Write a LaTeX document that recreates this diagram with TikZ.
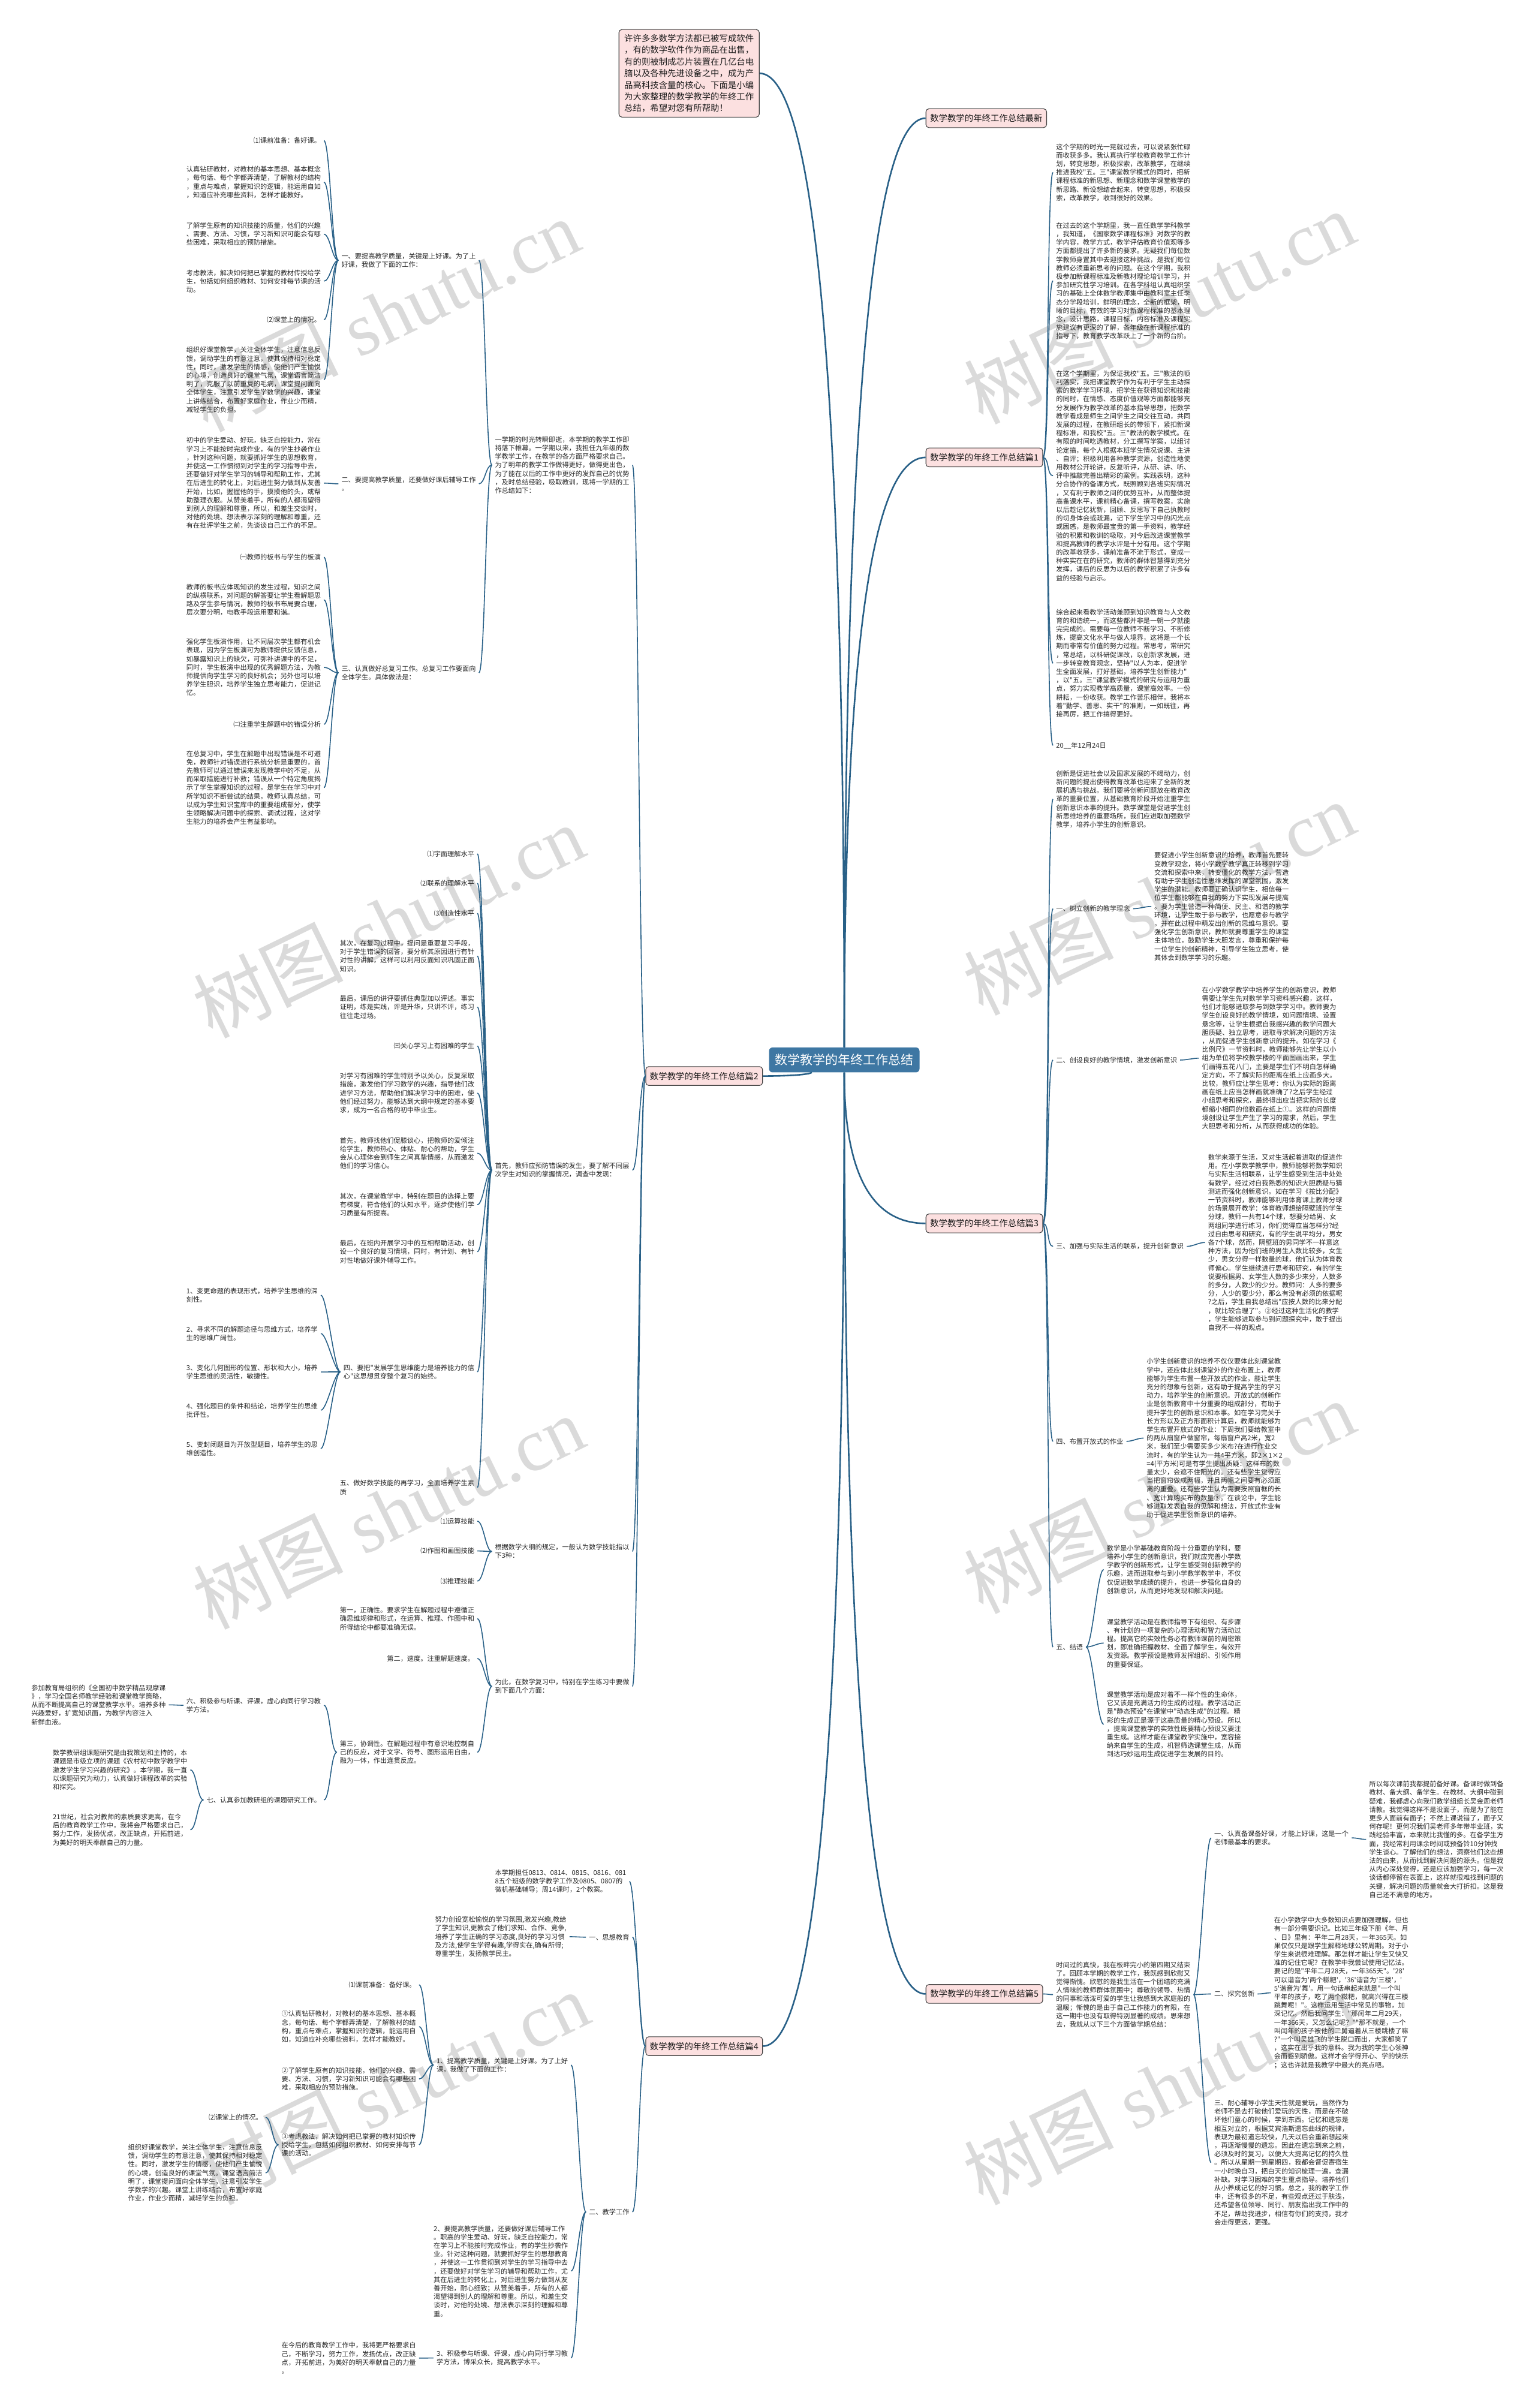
\documentclass[tikz,border=0pt]{standalone}
\usepackage{fontspec}
\usepackage{tikz}
\usetikzlibrary{calc}
\newfontfamily\cjk{Noto Sans CJK SC}
\newfontfamily\wmfont{Liberation Serif}
\definecolor{linkblue}{RGB}{40,96,135}
\definecolor{rootblue}{RGB}{62,119,163}
\definecolor{topicpink}{RGB}{252,224,224}
\definecolor{wmgray}{RGB}{218,218,218}
\newcommand\qlink[3]{\draw[main] (#1) .. controls ($(#1)!0.667!(#2)$) and ($(#3)!0.667!(#2)$) .. (#3);}
\newcommand\rlink[2]{\draw[sub] (#1.east) .. controls +(4,0) and +(-4,0) .. (#2.west);}
\newcommand\llink[2]{\draw[sub] (#1.west) .. controls +(-4,0) and +(4,0) .. (#2.east);}

\begin{document}
\begin{tikzpicture}[x=2.56pt, y=-2.56pt,
  txt/.style={font=\cjk\fontsize{11.2}{14.2}\selectfont, align=left, inner xsep=5pt, inner ysep=0.6pt, text=black!85},
  topic/.style={draw=black!75, line width=1.1pt, fill=topicpink, rounded corners=5pt, font=\cjk\fontsize{14.4}{19.4}\selectfont, inner xsep=7pt, inner ysep=9pt, text=black!90},
  root/.style={fill=rootblue, rounded corners=6pt, text=white, font=\cjk\fontsize{21}{25}\selectfont, inner xsep=10pt, inner ysep=11pt},
  main/.style={draw=linkblue, line width=2.6pt},
  sub/.style={draw=linkblue, line width=1.6pt},
  wm/.style={font=\wmfont\fontsize{125}{125}\selectfont, text=wmgray, rotate=26}]
\useasboundingbox (0,0) rectangle (1000,1568.75);
\fill[white] (0,0) rectangle (1000,1568.75);

\foreach \wx/\wy in {250/205, 755/200, 253/600, 755/585, 253/985, 755/975, 256/1360, 755/1360}
  {\node[wm] (wm-\wx-\wy) at (\wx,\wy) {{\cjk 树图} shutu.cn};}

\node[root] (root) at (550,690.5) {数学教学的年终工作总结};
\node[topic, anchor=north west, align=left, inner xsep=9pt, inner ysep=8pt] (intro) at (403,19) {许许多多数学方法都已被写成软件\\，有的数学软件作为商品在出售，\\有的则被制成芯片装置在几亿台电\\脑以及各种先进设备之中，成为产\\品高科技含量的核心。下面是小编\\为大家整理的数学教学的年终工作\\总结，希望对您有所帮助！};
\node[topic, anchor=west] (zxin) at (603,77) {数学教学的年终工作总结最新};
\node[topic, anchor=west] (p1) at (603,298) {数学教学的年终工作总结篇1};
\node[topic, anchor=west] (p3) at (603,797) {数学教学的年终工作总结篇3};
\node[topic, anchor=west] (p5) at (603,1299) {数学教学的年终工作总结篇5};
\node[topic, anchor=east] (p2) at (497,701) {数学教学的年终工作总结篇2};
\node[topic, anchor=east] (p4) at (497,1333) {数学教学的年终工作总结篇4};

% 篇1
\node[txt, anchor=north west] (a1) at (686,93.3) {这个学期的时光一晃就过去，可以说紧张忙碌\\而收获多多。我认真执行学校教育教学工作计\\划，转变思想，积极探索，改革教学，在继续\\推进我校"五。三"课堂教学模式的同时，把新\\课程标准的新思想、新理念和数学课堂教学的\\新思路、新设想结合起来，转变思想，积极探\\索，改革教学，收到很好的效果。};
\node[txt, anchor=north west] (a2) at (686,144.5) {在过去的这个学期里，我一直任数学学科教学\\，我知道，《国家数学课程标准》对数学的教\\学内容，教学方式，教学评估教育价值观等多\\方面都提出了许多新的要求。无疑我们每位数\\学教师身置其中去迎接这种挑战，是我们每位\\教师必须重新思考的问题。在这个学期，我积\\极参加新课程标准及新教材理论培训学习，并\\参加研究性学习培训。在各学科组认真组织学\\习的基础上全体数学教师集中由教科室主任李\\杰分学段培训，鲜明的理念，全新的框架，明\\晰的目标，有效的学习对新课程标准的基本理\\念，设计思路，课程目标，内容标准及课程实\\施建议有更深的了解，各年级在新课程标准的\\指导下，教育教学改革跃上了一个新的台阶。};
\node[txt, anchor=north west] (a3) at (686,241) {在这个学期里，为保证我校"五。三"教法的顺\\利落实，我把课堂教学作为有利于学生主动探\\索的数学学习环境，把学生在获得知识和技能\\的同时，在情感、态度价值观等方面都能够充\\分发展作为教学改革的基本指导思想，把数学\\教学看成是师生之间学生之间交往互动，共同\\发展的过程，在教研组长的带领下，紧扣新课\\程标准，和我校"五。三"教法的教学模式。在\\有限的时间吃透教材，分工撰写学案，以组讨\\论定搞，每个人根据本班学生情况说课、主讲\\、自评；积极利用各种教学资源，创造性地使\\用教材公开轮讲，反复听评，从研、讲、听、\\评中推敲完善出精彩的案例。实践表明，这种\\分合协作的备课方式，既照顾到各班实际情况\\，又有利于教师之间的优势互补，从而整体提\\高备课水平，课前精心备课，撰写教案，实施\\以后趁记忆犹新，回顾、反思写下自己执教时\\的切身体会或疏漏，记下学生学习中的闪光点\\或困惑，是教师最宝贵的第一手资料，教学经\\验的积累和教训的吸取，对今后改进课堂教学\\和提高教师的教学水评是十分有用。这个学期\\的改革收获多，课前准备不流于形式，变成一\\种实实在在的研究，教师的群体智慧得到充分\\发挥，课后的反思为以后的教学积累了许多有\\益的经验与启示。};
\node[txt, anchor=north west] (a4) at (686,396.4) {综合起来看教学活动兼顾到知识教育与人文教\\育的和谐统一，而这些都并非是一朝一夕就能\\完完成的。需要每一位教师不断学习、不断修\\炼，提高文化水平与做人境界，这将是一个长\\期而非常有价值的努力过程。常思考，常研究\\，常总结，以科研促课改，以创新求发展，进\\一步转变教育观念，坚持"以人为本，促进学\\生全面发展，打好基础，培养学生创新能力"\\，以"五。三"课堂教学模式的研究与运用为重\\点，努力实现教学高质量，课堂高效率。一份\\耕耘，一份收获。教学工作苦乐相伴。我将本\\着"勤学、善思、实干"的准则，一如既往，再\\接再厉，把工作搞得更好。};
\node[txt, anchor=west] (a5) at (686,485.6) {20\_\_年12月24日};

% 篇3
\node[txt, anchor=north west] (b0) at (686,501.6) {创新是促进社会以及国家发展的不竭动力，创\\新问题的提出使得教育改革也迎来了全新的发\\展机遇与挑战。我们要将创新问题放在教育改\\革的重要位置，从基础教育阶段开始注重学生\\创新意识本事的提升。数学课堂是促进学生创\\新思维培养的重要场所，我们应进取加强数学\\教学，培养小学生的创新意识。};
\node[txt, anchor=west] (b1) at (686,592) {一、树立创新的教学理念};
\node[txt, anchor=north west] (b1t) at (750,554.9) {要促进小学生创新意识的培养，教师首先要转\\变教学观念，将小学数学教学真正转移到学习\\交流和探索中来，转变僵化的教学方法，营造\\有助于学生创造性思维发挥的课堂氛围，激发\\学生的潜能。教师要正确认识学生，相信每一\\位学生都能够在自我的努力下实现发展与提高\\。要为学生营造一种简便、民主、和谐的教学\\环境，让学生敢于参与教学，也愿意参与教学\\，并在此过程中萌发出创新的思维与意识。要\\强化学生创新意识，教师就要尊重学生的课堂\\主体地位，鼓励学生大胆发言，尊重和保护每\\一位学生的创新精神，引导学生独立思考，使\\其体会到数学学习的乐趣。};
\node[txt, anchor=west] (b2) at (686,690.6) {二、创设良好的教学情境，激发创新意识};
\node[txt, anchor=north west] (b2t) at (781,642.6) {在小学数学教学中培养学生的创新意识，教师\\需要让学生先对数学学习资料感兴趣，这样，\\他们才能够进取参与到数学学习中。教师要为\\学生创设良好的教学情境，如问题情境、设置\\悬念等，让学生根据自我感兴趣的数学问题大\\胆质疑、独立思考，进取寻求解决问题的方法\\，从而促进学生创新意识的提升。如在学习《\\比例尺》一节资料时，教师能够先让学生以小\\组为单位将学校教学楼的平面图画出来，学生\\们画得五花八门，主要是学生们不明白怎样确\\定方向，不了解实际的距离在纸上应画多大。\\比较，教师应让学生思考：你认为实际的距离\\画在纸上应当怎样画就准确了?之后学生经过\\小组思考和探究，最终得出应当把实际的长度\\都缩小相同的倍数画在纸上①。这样的问题情\\境创设让学生产生了学习的需求，然后，学生\\大胆思考和分析，从而获得成功的体验。};
\node[txt, anchor=west] (b3) at (686,812) {三、加强与实际生活的联系，提升创新意识};
\node[txt, anchor=north west] (b3t) at (785,751.6) {数学来源于生活，又对生活起着进取的促进作\\用。在小学数学教学中，教师能够将数学知识\\与实际生活相联系，让学生感受到生活中处处\\有数学，经过对自我熟悉的知识大胆质疑与猜\\测进而强化创新意识。如在学习《按比分配》\\一节资料时，教师能够利用体育课上教师分球\\的场景展开教学：体育教师想给隔壁班的学生\\分球，教师一共有14个球，想要分给男、女\\两组同学进行练习，你们觉得应当怎样分?经\\过自由思考和研究，有的学生说平均分，男女\\各7个球，然而，隔壁班的男同学不一样意这\\种方法，因为他们班的男生人数比较多，女生\\少，男女分得一样数量的球，他们认为体育教\\师偏心。学生继续进行思考和研究，有的学生\\说要根据男、女学生人数的多少来分，人数多\\的多分，人数少的少分。教师问：人多的要多\\分，人少的要少分，那么有没有必须的依据呢\\?之后，学生自我总结出"应按人数的比来分配\\，就比较合理了"。②经过这种生活化的教学\\，学生能够进取参与到问题探究中，敢于提出\\自我不一样的观点。};
\node[txt, anchor=west] (b4) at (686,939) {四、布置开放式的作业};
\node[txt, anchor=north west] (b4t) at (745,884.6) {小学生创新意识的培养不仅仅要体此刻课堂教\\学中，还应体此刻课堂外的作业布置上，教师\\能够为学生布置一些开放式的作业，能让学生\\充分的想象与创新，这有助于提高学生的学习\\动力，培养学生的创新意识。开放式的创新作\\业是创新教育中十分重要的组成部分，有助于\\提升学生的创新意识和本事。如在学习完关于\\长方形以及正方形面积计算后，教师就能够为\\学生布置开放式的作业：下周我们要给教室中\\的两从扇窗户做窗帘，每扇窗户高2米，宽2\\米，我们至少需要买多少米布?在进行作业交\\流时，有的学生认为一共4平方米，即2×1×2\\=4(平方米)可是有学生提出质疑：这样布的数\\量太少，会遮不住阳光的。还有些学生觉得应\\当把窗帘做成两幅，并且两幅之间要有必须距\\离的重叠。还有些学生认为需要按照窗框的长\\、宽计算购买布的数量③。在谈论中，学生能\\够进取发表自我的见解和想法，开放式作业有\\助于促进学生创新意识的培养。};
\node[txt, anchor=west] (b5) at (686,1073) {五、结语};
\node[txt, anchor=north west] (b5a) at (719,1006.2) {数学是小学基础教育阶段十分重要的学科，要\\培养小学生的创新意识，我们就应完善小学数\\学教学的创新形式，让学生感受到创新教学的\\乐趣，进而进取参与到小学数学教学中，不仅\\仅促进数学成绩的提升，也进一步强化自身的\\创新意识，从而更好地发现和解决问题。};
\node[txt, anchor=north west] (b5b) at (719,1054.2) {课堂教学活动是在教师指导下有组织、有步骤\\、有计划的一项复杂的心理活动和智力活动过\\程。提高它的实效性务必有教师课前的周密策\\划，即准确把握教材、全面了解学生，有效开\\发资源。教学预设是教师发挥组织、引领作用\\的重要保证。};
\node[txt, anchor=north west] (b5c) at (719,1101.6) {课堂教学活动是应对着不一样个性的生命体，\\它又该是充满活力的生成的过程。教学活动正\\是"静态预设"在课堂中"动态生成"的过程。精\\彩的生成正是源于这高质量的精心预设。所以\\，提高课堂教学的实效性既要精心预设又要注\\重生成。这样才能在课堂教学实施中，宽容接\\纳来自学生的生成，机智筛选课堂生成，从而\\到达巧妙运用生成促进学生发展的目的。};

% 篇5
\node[txt, anchor=north west] (c0) at (686,1277.6) {时间过的真快，我在板畔完小的第四期又结束\\了。回顾本学期的教学工作，我既感到欣慰又\\觉得惭愧。欣慰的是我生活在一个团结的充满\\人情味的教师群体氛围中；尊敬的领导、热情\\的同事和活泼可爱的学生让我感到大家庭般的\\温暖；惭愧的是由于自己工作能力的有限，在\\这一期中也没有取得特别显著的成绩。思来想\\去，我就从以下三个方面做学期总结：};
\node[txt, anchor=north west] (c1) at (789,1192.2) {一、认真备课备好课，才能上好课，这是一个\\老师最基本的要求。};
\node[txt, anchor=north west] (c1t) at (890,1159.9) {所以每次课前我都提前备好课。备课时做到备\\教材、备大纲、备学生。在教材、大纲中碰到\\疑难，我都虚心向我们数学组组长吴金周老师\\请教。我觉得这样不是没面子，而是为了能在\\更多人面前有面子；不然上课说错了，面子又\\何存呢！更何况我们吴老师多年带毕业班，实\\践经验丰富，本来就比我懂的多。在备学生方\\面，我经常利用课余时间或预备铃10分钟找\\学生谈心。了解他们的想法，洞察他们这些想\\法的由来，从而找到解决问题的源头。但是我\\从内心深处觉得，还是应该加强学习，每一次\\谈话都停留在表面上，这样就很难找到问题的\\关键，解决问题的质量就会大打折扣。这是我\\自己还不满意的地方。};
\node[txt, anchor=west] (c2) at (789,1299) {二、探究创新};
\node[txt, anchor=north west] (c2t) at (828,1248.6) {在小学数学中大多数知识点要加强理解，但也\\有一部分需要识记。比如三年级下册《年、月\\、日》里有：平年二月28天，一年365天。如\\果仅仅只是跟学生解释地球公转周期。对于小\\学生来说很难理解。那怎样才能让学生又快又\\准的记住它呢？在教学中我尝试使用记忆法。\\要记的是"平年二月28天，一年365天"。'28'\\可以谐音为'两个糍粑'，'36'谐音为'三楼'，'\\5'谐音为'舞'。用一句话串起来就是"一个叫\\平年的孩子，吃了两个糍粑，就高兴得在三楼\\跳舞呢！"。这样运用生活中常见的事物，加\\深记忆。然后我问学生："那闰年二月29天，\\一年366天，又怎么记呢？""那不就是，一个\\叫闰年的孩子被他的二舅逼着从三楼跳楼了嘛\\?"一个叫吴雄飞的学生脱口而出，大家都笑了\\，这实在出乎我的意料。我为我的学生心领神\\会而感到骄傲。这样才会学得开心、学的快乐\\；这也许就是我教学中最大的亮点吧。};
\node[txt, anchor=north west] (c3) at (789,1367.6) {三、耐心辅导小学生天性就是爱玩，当然作为\\老师不是去打破他们爱玩的天性，而是在不破\\坏他们童心的时候，学到东西。记忆和遗忘是\\相互对立的，根据艾宾浩斯遗忘曲线的规律，\\表现为最初遗忘较快，几天以后会重新想起来\\，再逐渐慢慢的遗忘。因此在遗忘到来之前，\\必须及时的复习，以便大大提高记忆的持久性\\。所以从星期一到星期四，我都会督促寄宿生\\一小时晚自习，把白天的知识梳理一遍，查漏\\补缺。对学习困难的学生重点指导。培养他们\\从小养成记忆的好习惯。总之，我的教学工作\\中，还有很多的不足，有些观点还过于肤浅，\\还希望各位领导、同行、朋友指出我工作中的\\不足，帮助我进步，相信有你们的支持，我才\\会走得更远，更强。};

% 篇2
\node[txt, anchor=north east] (A) at (412,284) {一学期的时光转瞬即逝，本学期的教学工作即\\将落下帷幕。一学期以来，我担任九年级的数\\学教学工作，在教学的各方面严格要求自己。\\为了明年的教学工作做得更好，做得更出色，\\为了能在以后的工作中更好的发挥自己的优势\\，及时总结经验，吸取教训，现将一学期的工\\作总结如下：};
\node[txt, anchor=north east] (A1) at (312,164.4) {一、要提高教学质量，关键是上好课。为了上\\好课，我做了下面的工作：};
\node[txt, anchor=north east] (A2) at (312,310.1) {二、要提高教学质量，还要做好课后辅导工作\\。};
\node[txt, anchor=north east] (A3) at (312,433.2) {三、认真做好总复习工作。总复习工作要面向\\全体学生。具体做法是：};
\node[txt, anchor=east] (A1a) at (211,91.6) {⑴课前准备：备好课。};
\node[txt, anchor=north east] (A1b) at (211,107.9) {认真钻研教材，对教材的基本思想、基本概念\\，每句话、每个字都弄清楚，了解教材的结构\\，重点与难点，掌握知识的逻辑，能运用自如\\，知道应补充哪些资料，怎样才能教好。};
\node[txt, anchor=north east] (A1c) at (211,144.6) {了解学生原有的知识技能的质量，他们的兴趣\\、需要、方法、习惯，学习新知识可能会有哪\\些困难，采取相应的预防措施。};
\node[txt, anchor=north east] (A1d) at (211,175.3) {考虑教法，解决如何把已掌握的教材传授给学\\生，包括如何组织教材、如何安排每节课的活\\动。};
\node[txt, anchor=east] (A1e) at (211,208.3) {⑵课堂上的情况。};
\node[txt, anchor=north east] (A1f) at (211,225.6) {组织好课堂教学，关注全体学生，注意信息反\\馈，调动学生的有意注意，使其保持相对稳定\\性，同时，激发学生的情感，使他们产生愉悦\\的心境，创造良好的课堂气氛，课堂语言简洁\\明了，克服了以前重复的毛病，课堂提问面向\\全体学生，注意引发学生学数学的兴趣，课堂\\上讲练结合，布置好家庭作业，作业少而精，\\减轻学生的负担。};
\node[txt, anchor=north east] (A2a) at (211,284.6) {初中的学生爱动、好玩，缺乏自控能力，常在\\学习上不能按时完成作业，有的学生抄袭作业\\，针对这种问题，就要抓好学生的思想教育，\\并使这一工作惯彻到对学生的学习指导中去，\\还要做好对学生学习的辅导和帮助工作，尤其\\在后进生的转化上，对后进生努力做到从友善\\开始，比如，握握他的手，摸摸他的头，或帮\\助整理衣服。从赞美着手，所有的人都渴望得\\到别人的理解和尊重，所以，和差生交谈时，\\对他的处境、想法表示深刻的理解和尊重，还\\有在批评学生之前，先谈谈自己工作的不足。};
\node[txt, anchor=east] (A3a) at (211,363) {㈠教师的板书与学生的板演};
\node[txt, anchor=north east] (A3b) at (211,380) {教师的板书应体现知识的发生过程，知识之间\\的纵横联系，对问题的解答要让学生看解题思\\路及学生参与情况，教师的板书布局要合理，\\层次要分明，电教手段运用要和谐。};
\node[txt, anchor=north east] (A3c) at (211,415.8) {强化学生板演作用，让不同层次学生都有机会\\表现，因为学生板演可为教师提供反馈信息，\\如暴露知识上的缺欠，可弥补讲课中的不足，\\同时，学生板演中出现的优秀解题方法，为教\\师提供向学生学习的良好机会；另外也可以培\\养学生胆识，培养学生独立思考能力，促进记\\忆。};
\node[txt, anchor=east] (A3d) at (211,471.9) {㈡注重学生解题中的错误分析};
\node[txt, anchor=north east] (A3e) at (211,488.6) {在总复习中，学生在解题中出现错误是不可避\\免，教师针对错误进行系统分析是重要的，首\\先教师可以通过错误来发现教学中的不足，从\\而采取措施进行补救；错误从一个特定角度揭\\示了学生掌握知识的过程，是学生在学习中对\\所学知识不断尝试的结果，教师认真总结，可\\以成为学生知识宝库中的重要组成部分，使学\\生领略解决问题中的探索、调试过程，这对学\\生能力的培养会产生有益影响。};

\node[txt, anchor=north east] (B) at (412,757.2) {首先，教师应预防错误的发生，要了解不同层\\次学生对知识的掌握情况，调查中发现：};
\node[txt, anchor=east] (B1) at (311,556.2) {⑴宇面理解水平};
\node[txt, anchor=east] (B2) at (311,575.4) {⑵联系的理解水平};
\node[txt, anchor=east] (B3) at (311,595) {⑶创造性水平};
\node[txt, anchor=north east] (B4) at (311,612.2) {其次，在复习过程中，提问是重要复习手段，\\对于学生错误的回答，要分析其原因进行有针\\对性的讲解，这样可以利用反面知识巩固正面\\知识。};
\node[txt, anchor=north east] (B5) at (311,648.2) {最后，课后的讲评要抓住典型加以评述。事实\\证明，练是实践，评是升华，只讲不评，练习\\往往走过场。};
\node[txt, anchor=east] (B6) at (311,681.5) {㈢关心学习上有困难的学生};
\node[txt, anchor=north east] (B7) at (311,698.6) {对学习有困难的学生特别予以关心，反复采取\\措施，激发他们学习数学的兴趣，指导他们改\\进学习方法，帮助他们解决学习中的困难，使\\他们经过努力，能够达到大纲中规定的基本要\\求，成为一名合格的初中毕业生。};
\node[txt, anchor=north east] (B8) at (311,740.6) {首先，教师找他们促膝谈心，把教师的爱倾注\\给学生，教师热心、体贴、耐心的帮助，学生\\会从心理体会到师生之间真挚情感，从而激发\\他们的学习信心。};
\node[txt, anchor=north east] (B9) at (311,776.9) {其次，在课堂教学中，特别在题目的选择上要\\有梯度，符合他们的认知水平，逐步使他们学\\习质量有所提高。};
\node[txt, anchor=north east] (B10) at (311,807.6) {最后，在班内开展学习中的互相帮助活动，创\\设一个良好的复习情境，同时，有计划、有针\\对性地做好课外辅导工作。};
\node[txt, anchor=north east] (B11) at (311,888.6) {四、要把"发展学生思维能力是培养能力的信\\心"这思想贯穿整个复习的始终。};
\node[txt, anchor=north east] (B12) at (311,963.9) {五、做好数学技能的再学习，全面培养学生素\\质};
\node[txt, anchor=north east] (F1) at (209,838.6) {1、变更命题的表现形式，培养学生思维的深\\刻性。};
\node[txt, anchor=north east] (F2) at (209,863.6) {2、寻求不同的解题途径与思维方式，培养学\\生的思维广阔性。};
\node[txt, anchor=north east] (F3) at (209,888.6) {3、变化几何图形的位置、形状和大小，培养\\学生思维的灵活性，敏捷性。};
\node[txt, anchor=north east] (F4) at (209,913.6) {4、强化题目的条件和结论，培养学生的思维\\批评性。};
\node[txt, anchor=north east] (F5) at (209,938.6) {5、变封闭题目为开放型题目，培养学生的思\\维创造性。};

\node[txt, anchor=north east] (C) at (412,1005.6) {根据数学大纲的规定，一般认为数学技能指以\\下3种：};
\node[txt, anchor=east] (C1) at (311,991) {⑴运算技能};
\node[txt, anchor=east] (C2) at (311,1010.4) {⑵作图和画图技能};
\node[txt, anchor=east] (C3) at (311,1030) {⑶推理技能};

\node[txt, anchor=north east] (D) at (412,1093.5) {为此，在数学复习中，特别在学生练习中要做\\到下面几个方面：};
\node[txt, anchor=north east] (D1) at (311,1046.6) {第一，正确性。要求学生在解题过程中遵循正\\确思维规律和形式，在运算、推理、作图中和\\所得结论中都要准确无误。};
\node[txt, anchor=east] (D2) at (311,1080.5) {第二，速度。注重解题速度。};
\node[txt, anchor=north east] (D3) at (311,1133.6) {第三，协调性。在解题过程中有意识地控制自\\己的反应，对于文字、符号、图形运用自由，\\融为一体，作出连贯反应。};
\node[txt, anchor=north east] (G6) at (211,1105.8) {六、积极参与听课、评课，虚心向同行学习教\\学方法。};
\node[txt, anchor=east] (G7) at (211,1172.6) {七、认真参加教研组的课题研究工作。};
\node[txt, anchor=north east] (G6t) at (110,1097.2) {参加教育局组织的《全国初中数学精品观摩课\\》，学习全国名师教学经验和课堂教学策略，\\从而不断提高自己的课堂教学水平。培养多种\\兴趣爱好，扩宽知识面，为教学内容注入\\新鲜血液。};
\node[txt, anchor=north east] (G7a) at (124,1139.6) {数学教研组课题研究是由我策划和主持的，本\\课题是市级立项的课题《农村初中数学教学中\\激发学生学习兴趣的研究》。本学期，我一直\\以课题研究为动力，认真做好课程改革的实验\\和探究。};
\node[txt, anchor=north east] (G7b) at (124,1181.3) {21世纪，社会对教师的素质要求更高，在今\\后的教育教学工作中，我将会严格要求自己，\\努力工作，发扬优点，改正缺点，开拓前进，\\为美好的明天奉献自己的力量。};

% 篇4
\node[txt, anchor=north east] (H1) at (410,1217.6) {本学期担任0813、0814、0815、0816、081\\8五个班级的数学教学工作及0805、0807的\\微机基础辅导；周14课时，2个教案。};
\node[txt, anchor=east] (H2) at (412,1262) {一、思想教育};
\node[txt, anchor=east] (H3) at (412,1441) {二、教学工作};
\node[txt, anchor=north east] (H2t) at (371,1248.2) {努力创设宽松愉悦的学习氛围,激发兴趣,教给\\了学生知识,更教会了他们求知、合作、竞争,\\培养了学生正确的学习态度,良好的学习习惯\\及方法,使学生学得有趣,学得实在,确有所得;\\尊重学生，发扬教学民主。};
\node[txt, anchor=north east] (I1) at (372,1340.1) {1、提高教学质量，关键是上好课。为了上好\\课，我做了下面的工作：};
\node[txt, anchor=north east] (I2) at (372,1449.5) {2、要提高教学质量，还要做好课后辅导工作\\。职高的学生爱动、好玩，缺乏自控能力，常\\在学习上不能按时完成作业，有的学生抄袭作\\业。针对这种问题，就要抓好学生的思想教育\\，并使这一工作贯彻到对学生的学习指导中去\\，还要做好对学生学习的辅导和帮助工作，尤\\其在后进生的转化上，对后进生努力做到从友\\善开始，耐心细致；从赞美着手，所有的人都\\渴望得到别人的理解和尊重。所以，和差生交\\谈时，对他的处境、想法表示深刻的理解和尊\\重。};
\node[txt, anchor=north east] (I3) at (372,1531) {3、积极参与听课、评课，虚心向同行学习教\\学方法，博采众长，提高教学水平。};
\node[txt, anchor=east] (J1) at (273,1293) {⑴课前准备：备好课。};
\node[txt, anchor=north east] (J2) at (273,1309.6) {①认真钻研教材，对教材的基本思想、基本概\\念，每句话、每个字都弄清楚，了解教材的结\\构，重点与难点，掌握知识的逻辑，能运用自\\如，知道应补充哪些资料，怎样才能教好。};
\node[txt, anchor=north east] (J3) at (273,1346.4) {②了解学生原有的知识技能，他们的兴趣、需\\要、方法、习惯，学习新知识可能会有哪些困\\难，采取相应的预防措施。};
\node[txt, anchor=north east] (J4) at (273,1389.4) {③考虑教法，解决如何把已掌握的教材知识传\\授给学生，包括如何组织教材、如何安排每节\\课的活动。};
\node[txt, anchor=east] (K1) at (173,1379.4) {⑵课堂上的情况。};
\node[txt, anchor=north east] (K2) at (173,1396.5) {组织好课堂教学，关注全体学生，注意信息反\\馈，调动学生的有意注意，使其保持相对稳定\\性。同时，激发学生的情感，使他们产生愉悦\\的心境，创造良好的课堂气氛。课堂语言简洁\\明了，课堂提问面向全体学生，注意引发学生\\学数学的兴趣。课堂上讲练结合，布置好家庭\\作业，作业少而精，减轻学生的负担。};
\node[txt, anchor=north east] (I3t) at (273,1525.6) {在今后的教育教学工作中，我将更严格要求自\\己，不断学习，努力工作，发扬优点，改正缺\\点，开拓前进，为美好的明天奉献自己的力量\\。};

% connectors
\qlink{root.north}{550,48}{intro.east}
\qlink{root.north}{550,77}{zxin.west}
\qlink{root.north}{550,298}{p1.west}
\qlink{root.south}{550,797}{p3.west}
\qlink{root.south}{550,1299}{p5.west}
\qlink{root.south}{550,1333}{p4.east}
\draw[main] (p2.east) .. controls (515,701) and (527,700) .. ($(root.south west)+(28,0)$);

\foreach \c in {a1,a2,a3,a4,a5} {\rlink{p1}{\c}}
\foreach \c in {b0,b1,b2,b3,b4,b5} {\rlink{p3}{\c}}
\rlink{b1}{b1t} \rlink{b2}{b2t} \rlink{b3}{b3t} \rlink{b4}{b4t}
\foreach \c in {b5a,b5b,b5c} {\rlink{b5}{\c}}
\rlink{p5}{c0}
\foreach \c in {c1,c2,c3} {\rlink{c0}{\c}}
\rlink{c1}{c1t} \rlink{c2}{c2t}

\foreach \c in {A,B,C,D} {\llink{p2}{\c}}
\foreach \c in {A1,A2,A3} {\llink{A}{\c}}
\foreach \c in {A1a,A1b,A1c,A1d,A1e,A1f} {\llink{A1}{\c}}
\llink{A2}{A2a}
\foreach \c in {A3a,A3b,A3c,A3d,A3e} {\llink{A3}{\c}}
\foreach \c in {B1,B2,B3,B4,B5,B6,B7,B8,B9,B10,B11,B12} {\llink{B}{\c}}
\foreach \c in {F1,F2,F3,F4,F5} {\llink{B11}{\c}}
\foreach \c in {C1,C2,C3} {\llink{C}{\c}}
\foreach \c in {D1,D2,D3} {\llink{D}{\c}}
\llink{D3}{G6} \llink{D3}{G7} \llink{G6}{G6t}
\llink{G7}{G7a} \llink{G7}{G7b}
\foreach \c in {H1,H2,H3} {\llink{p4}{\c}}
\llink{H2}{H2t}
\foreach \c in {I1,I2,I3} {\llink{H3}{\c}}
\foreach \c in {J1,J2,J3,J4} {\llink{I1}{\c}}
\llink{J4}{K1} \llink{J4}{K2}
\llink{I3}{I3t}
\end{tikzpicture}
\end{document}
